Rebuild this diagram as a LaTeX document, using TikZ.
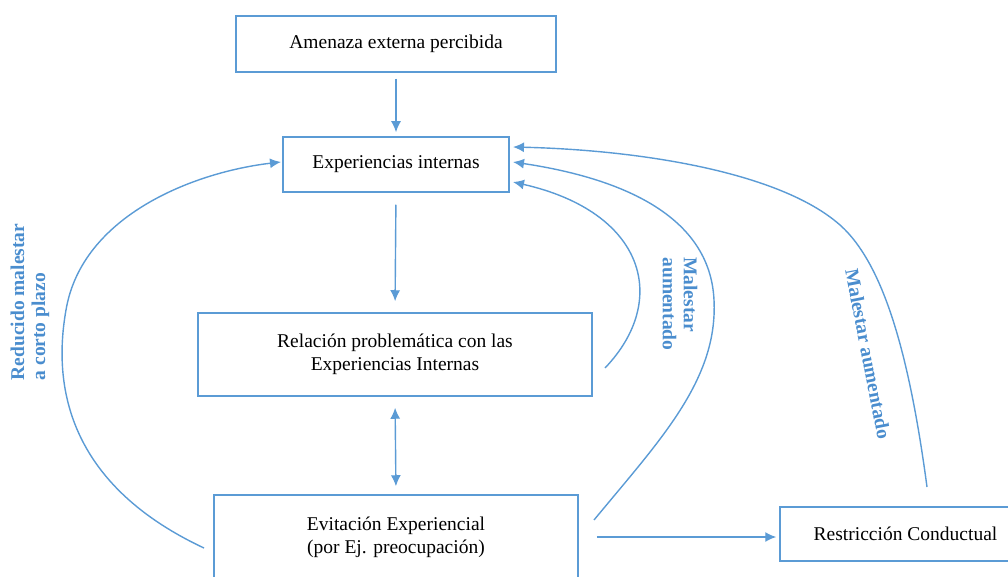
\documentclass[tikz,border=0pt]{standalone}
\usepackage{fontspec}
\setmainfont{Liberation Serif}
\usetikzlibrary{arrows.meta}
\definecolor{bl}{RGB}{91,155,213}
\definecolor{lbl}{RGB}{74,141,206}
\tikzset{
  box/.style={draw=bl, line width=1.5pt, align=center, font=\fontsize{19.5}{23}\selectfont, inner sep=0pt},
  arr/.style={draw=bl, line width=1.4pt, -{Latex[length=11pt,width=10pt]}},
  lab/.style={text=lbl, font=\bfseries\fontsize{19.5}{21}\selectfont, align=left, inner sep=0pt}
}
\begin{document}
\begin{tikzpicture}[x=1pt,y=-1pt]
\useasboundingbox (0,0) rectangle (1008,577);
\node[box, minimum width=320pt, minimum height=56pt] (am) at (396,44) {Amenaza externa percibida};
\node[box, minimum width=226pt, minimum height=55pt] (ei) at (396,164.5) {Experiencias internas};
\node[box, minimum width=394pt, minimum height=83pt] (re) at (395,354.5) {Relación problemática con las\\Experiencias Internas};
\node[box, minimum width=364pt, minimum height=84pt] (ev) at (396,537) {Evitación Experiencial\\(por Ej. preocupación)};
\node[box, minimum width=251pt, minimum height=54pt] (rc) at (905.5,534) {Restricción Conductual};

\draw[arr, shorten <=6pt, shorten >=4pt] (am.south) -- (ei.north);
\draw[arr, shorten <=12pt, shorten >=11pt] (ei.south) -- (re.north);
\draw[arr, {Latex[length=11pt,width=10pt]}-{Latex[length=11pt,width=10pt]}, shorten <=11pt, shorten >=8pt] (re.south) -- (ev.north);
\draw[arr, shorten <=18pt, shorten >=3pt] (ev.east |- 0,537) -- (rc.west |- 0,537);

\coordinate (s1) at (204,548);
\coordinate (e1) at (281,162);
\draw[arr] (s1) .. controls (80,490) and (50,400) .. (66,310) .. controls (82,215) and (195,172) .. (e1);

\coordinate (s2) at (605,368);
\coordinate (e2) at (513,182);
\draw[arr] (s2) .. controls (670,300) and (645,212) .. (e2);

\coordinate (s3) at (594,520);
\coordinate (e3) at (513,162);
\draw[arr] (s3) .. controls (660,440) and (718,380) .. (714,300) .. controls (710,215) and (620,178) .. (e3);

\coordinate (s4) at (927,487);
\coordinate (e4) at (513,147);
\draw[arr] (s4) .. controls (910,360) and (885,265) .. (840,225) .. controls (780,172) and (640,150) .. (e4);

\node[lab, rotate=90] (l1) at (30,302) {Reducido malestar\\a corto plazo};
\node[lab, rotate=-90] (l2) at (680,304) {Malestar\\aumentado};
\node[lab, rotate=-79] (l3) at (868,354) {Malestar aumentado};
\end{tikzpicture}
\end{document}
